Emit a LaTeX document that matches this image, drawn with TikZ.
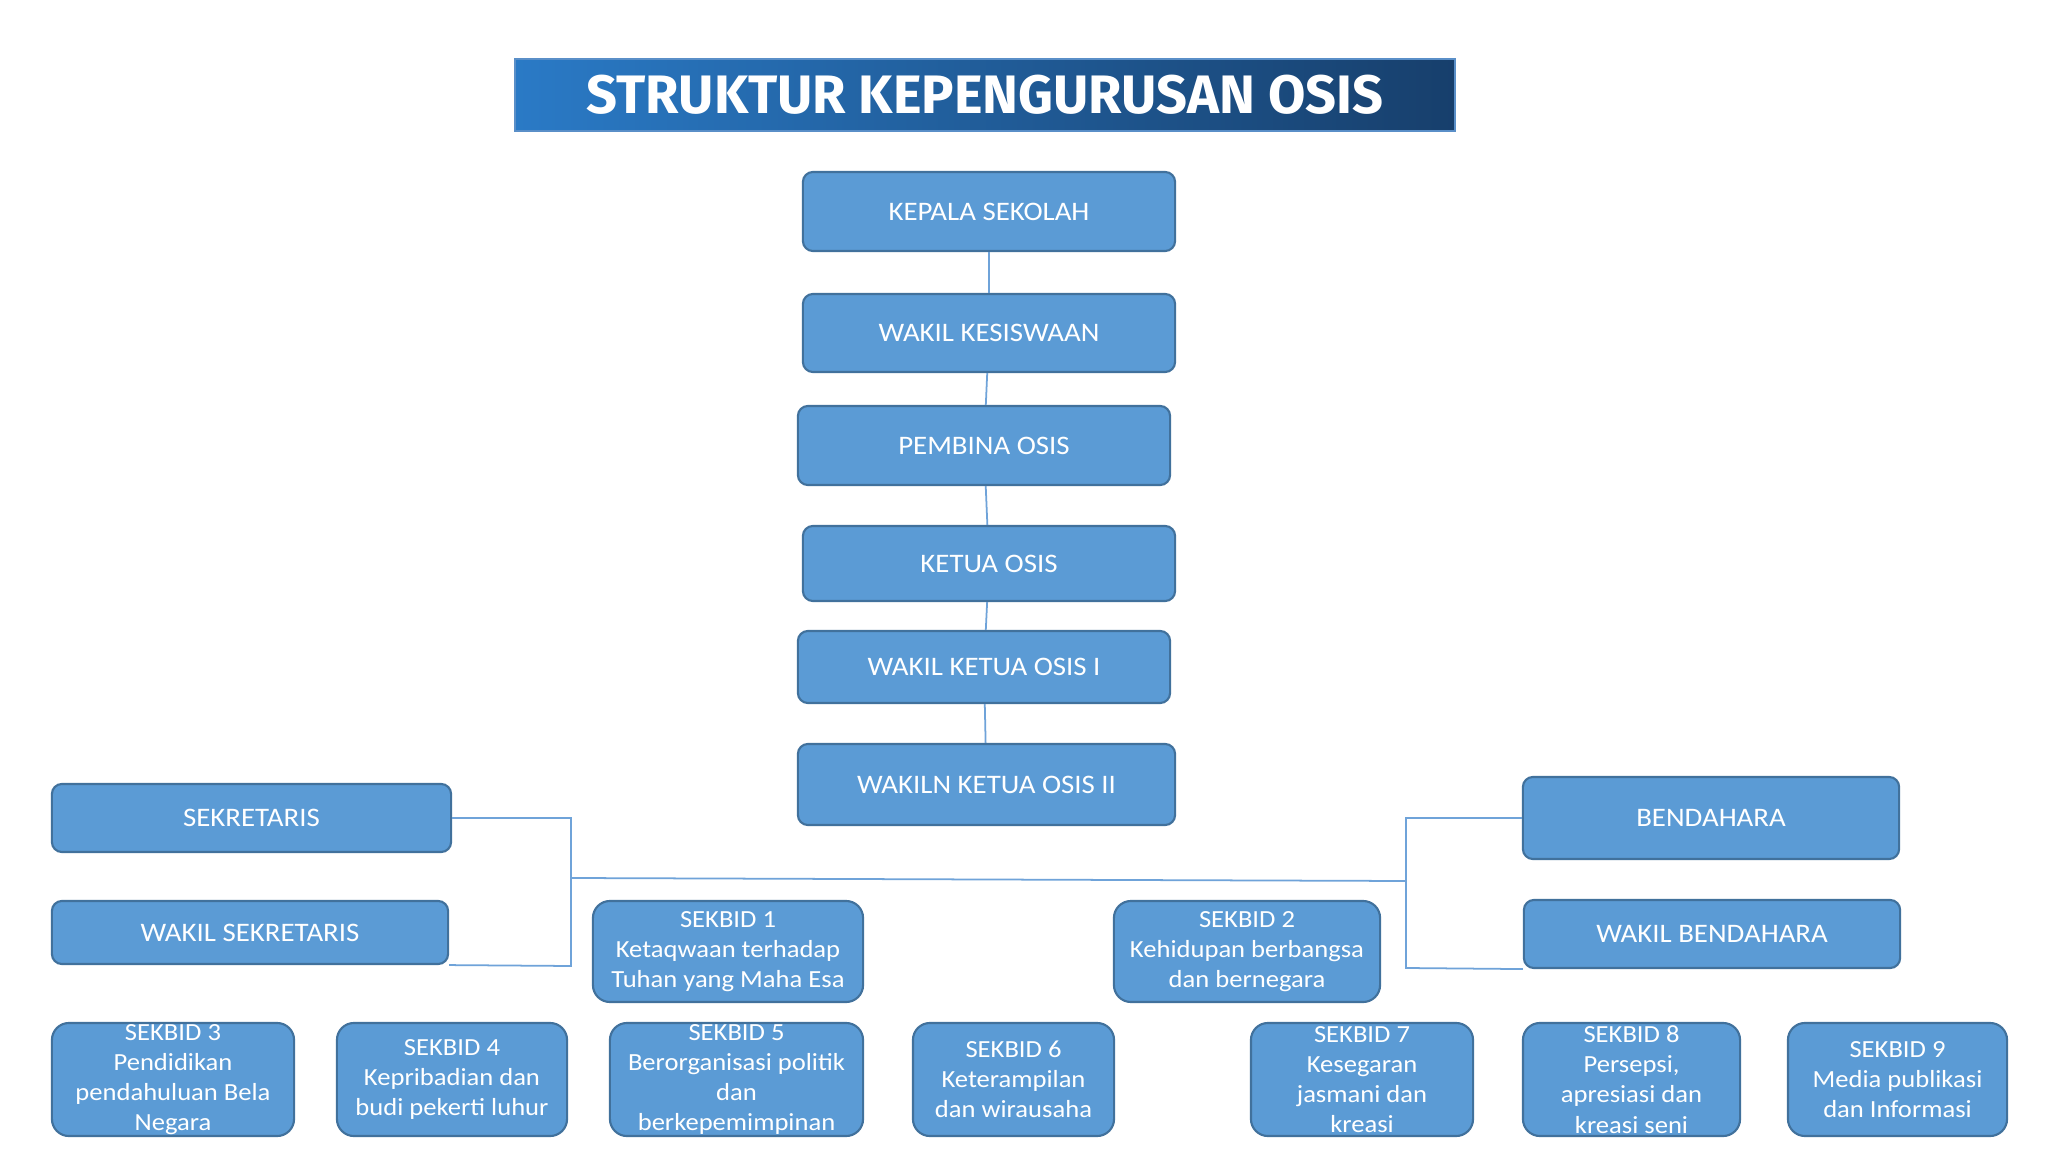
\documentclass[tikz,border=0pt]{standalone}
\usepackage{fontspec}
\setmainfont{Carlito}[FakeStretch=1.08]
\newfontfamily\titlefont{Fira Sans}
\usetikzlibrary{positioning}
\definecolor{boxblue}{HTML}{5B9BD5}
\definecolor{boxedge}{HTML}{41719C}
\definecolor{linkblue}{HTML}{6FA3D9}
\definecolor{titleleft}{HTML}{2A7AC6}
\definecolor{titleright}{HTML}{173F6C}
\definecolor{titleedge}{HTML}{5A8FC8}
\tikzset{
  jabatan/.style={draw=boxedge,fill=boxblue,text=white,rounded corners=0.1cm,
    line width=0.6pt,inner sep=0pt,align=center,font=\fontsize{7.6}{9.2}\selectfont},
  sekbid/.style={jabatan,rounded corners=0.17cm,font=\fontsize{7.0}{8.6}\selectfont},
  link/.style={draw=linkblue,line width=0.5pt},
}

\begin{document}
\begin{tikzpicture}[x=0.01cm,y=-0.01cm]
  \useasboundingbox[fill=white] (0,0) rectangle (2048,1152);
  % judul
  \node[draw=titleedge,line width=0.5pt,left color=titleleft,right color=titleright,
    minimum width=9.40cm,minimum height=0.72cm,inner sep=0pt,text=white,
    font=\titlefont\bfseries\fontsize{15.4}{18}\selectfont] (judul) at (985,95) {STRUKTUR KEPENGURUSAN OSIS};
  % kolom tengah
  \node[jabatan,minimum width=3.72cm,minimum height=0.79cm] (kepsek) at (989,211.5) {KEPALA SEKOLAH};
  \node[jabatan,minimum width=3.72cm,minimum height=0.78cm] (wakasis) at (989,333) {WAKIL KESISWAAN};
  \node[jabatan,minimum width=3.72cm,minimum height=0.79cm] (pembina) at (984,445.5) {PEMBINA OSIS};
  \node[jabatan,minimum width=3.72cm,minimum height=0.75cm] (ketua) at (989,563.5) {KETUA OSIS};
  \node[jabatan,minimum width=3.72cm,minimum height=0.72cm] (waka1) at (984,667) {WAKIL KETUA OSIS I};
  \node[jabatan,minimum width=3.77cm,minimum height=0.81cm] (waka2) at (986.5,784.5) {WAKILN KETUA OSIS II};
  % sekretaris dan bendahara
  \node[jabatan,minimum width=3.99cm,minimum height=0.68cm] (sekre) at (251.5,818) {SEKRETARIS};
  \node[jabatan,minimum width=3.96cm,minimum height=0.63cm] (wsekre) at (250,932.5) {WAKIL SEKRETARIS};
  \node[jabatan,minimum width=3.76cm,minimum height=0.82cm] (benda) at (1711,818) {BENDAHARA};
  \node[jabatan,minimum width=3.76cm,minimum height=0.68cm] (wbenda) at (1712,934) {WAKIL BENDAHARA};
  % sekbid
  \node[sekbid,minimum width=2.70cm,minimum height=1.01cm] (sb1) at (728,951.5) {SEKBID 1\\Ketaqwaan terhadap\\Tuhan yang Maha Esa};
  \node[sekbid,minimum width=2.66cm,minimum height=1.01cm] (sb2) at (1247,951.5) {SEKBID 2\\Kehidupan berbangsa\\dan bernegara};
  \node[sekbid,minimum width=2.42cm,minimum height=1.13cm] (sb3) at (173,1079.5) {SEKBID 3\\Pendidikan\\pendahuluan Bela\\Negara};
  \node[sekbid,minimum width=2.30cm,minimum height=1.13cm] (sb4) at (452,1079.5) {SEKBID 4\\Kepribadian dan\\budi pekerti luhur};
  \node[sekbid,minimum width=2.53cm,minimum height=1.13cm] (sb5) at (736.5,1079.5) {SEKBID 5\\Berorganisasi politik\\dan\\berkepemimpinan};
  \node[sekbid,minimum width=2.01cm,minimum height=1.13cm] (sb6) at (1013.5,1079.5) {SEKBID 6\\Keterampilan\\dan wirausaha};
  \node[sekbid,minimum width=2.22cm,minimum height=1.13cm] (sb7) at (1362,1079.5) {SEKBID 7\\Kesegaran\\jasmani dan\\kreasi};
  \node[sekbid,minimum width=2.17cm,minimum height=1.13cm] (sb8) at (1631.5,1079.5) {SEKBID 8\\Persepsi,\\apresiasi dan\\kreasi seni};
  \node[sekbid,minimum width=2.19cm,minimum height=1.13cm] (sb9) at (1897.5,1079.5) {SEKBID 9\\Media publikasi\\dan Informasi};
  % garis
  \draw[link] (kepsek) -- (wakasis);
  \draw[link] (wakasis) -- (pembina);
  \draw[link] (pembina) -- (ketua);
  \draw[link] (ketua) -- (waka1);
  \draw[link] (waka1) -- (waka2);
  \coordinate (kiriatas) at (571,818);
  \coordinate (kiribawah) at (571,966);
  \coordinate (kiritengah) at (571,878);
  \coordinate (kananatas) at (1406,818);
  \coordinate (kananbawah) at (1406,968);
  \coordinate (kanantengah) at (1406,881);
  \draw[link] (sekre.east) -- (kiriatas) -- (kiribawah) -- (wsekre.south east);
  \draw[link] (benda.west) -- (kananatas) -- (kananbawah) -- (wbenda.south west);
  \draw[link] (kiritengah) -- (kanantengah);
\end{tikzpicture}
\end{document}
